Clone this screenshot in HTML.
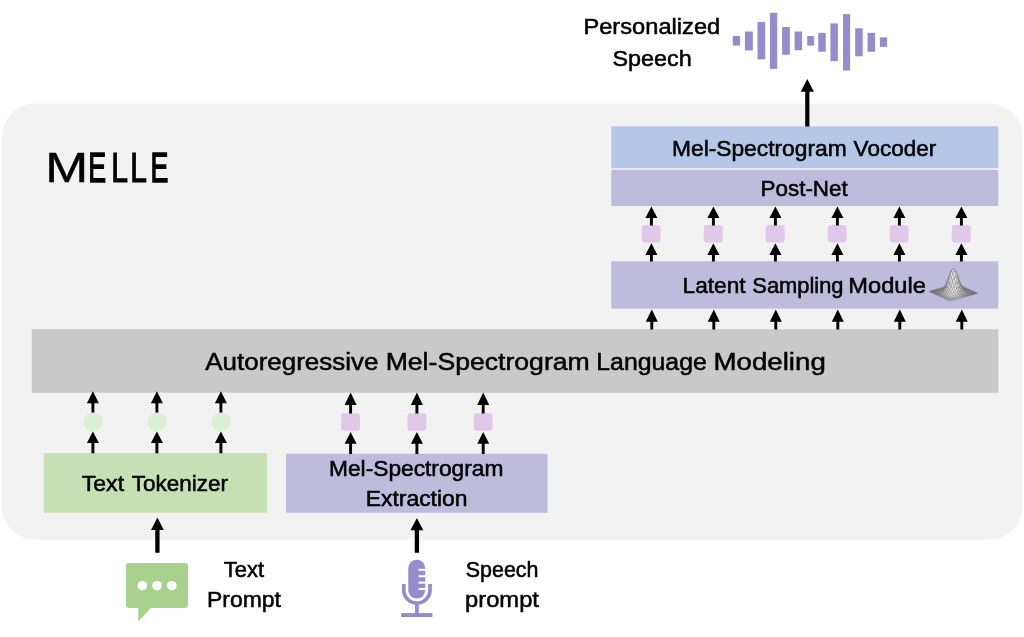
<!DOCTYPE html>
<html lang="en">
<head>
<meta charset="utf-8">
<title>MELLE</title>
<style>
html,body{margin:0;padding:0;background:#fff;}
body{width:1024px;height:637px;overflow:hidden;position:relative;font-family:"Liberation Sans",sans-serif;}
svg{position:absolute;left:0;top:0;display:block;}
text{font-family:"Liberation Sans",sans-serif;fill:#000;stroke:#000;stroke-width:0.55px;vector-effect:non-scaling-stroke;}
</style>
</head>
<body>
<svg width="1024" height="637" viewBox="0 0 1024 637">
<rect x="2" y="103.5" width="1020.5" height="436" rx="33" ry="33" fill="#f2f2f2"/>
<rect x="611.25" y="126.25" width="387" height="41.9" fill="#b4c7e7"/>
<rect x="611.25" y="168.1" width="387" height="1.9" fill="#e9e9f3"/>
<rect x="611.25" y="170" width="387" height="36" fill="#bfbbdd"/>
<rect x="611.25" y="261.25" width="387" height="47.4" fill="#bfbbdd"/>
<rect x="31.75" y="329.25" width="966.6" height="63.5" fill="#c9c9c9"/>
<rect x="43.75" y="453" width="223.25" height="59.75" fill="#c5e0b4"/>
<rect x="286" y="453.75" width="261.5" height="59" fill="#bfbbdd"/>
<g fill="#e1c8eb">
<rect x="641.80" y="225" width="18.8" height="17.5" rx="3" ry="3"/>
<rect x="703.80" y="225" width="18.8" height="17.5" rx="3" ry="3"/>
<rect x="765.80" y="225" width="18.8" height="17.5" rx="3" ry="3"/>
<rect x="827.80" y="225" width="18.8" height="17.5" rx="3" ry="3"/>
<rect x="889.80" y="225" width="18.8" height="17.5" rx="3" ry="3"/>
<rect x="951.80" y="225" width="18.8" height="17.5" rx="3" ry="3"/>
<rect x="341.20" y="413.25" width="18.8" height="17.5" rx="3" ry="3"/>
<rect x="407.50" y="413.25" width="18.8" height="17.5" rx="3" ry="3"/>
<rect x="473.80" y="413.25" width="18.8" height="17.5" rx="3" ry="3"/>
</g>
<g fill="#d9f0d3">
<circle cx="92.90" cy="421.9" r="9.6"/>
<circle cx="156.90" cy="421.9" r="9.6"/>
<circle cx="220.90" cy="421.9" r="9.6"/>
</g>
<g fill="#000">
<path d="M651.40 206.60L657.40 218.00L652.85 218.00L652.85 225.50L649.95 225.50L649.95 218.00L645.40 218.00Z"/>
<path d="M651.40 243.20L657.40 255.00L652.85 255.00L652.85 261.50L649.95 261.50L649.95 255.00L645.40 255.00Z"/>
<path d="M651.80 309.60L657.80 321.75L653.25 321.75L653.25 329.50L650.35 329.50L650.35 321.75L645.80 321.75Z"/>
<path d="M713.40 206.60L719.40 218.00L714.85 218.00L714.85 225.50L711.95 225.50L711.95 218.00L707.40 218.00Z"/>
<path d="M713.40 243.20L719.40 255.00L714.85 255.00L714.85 261.50L711.95 261.50L711.95 255.00L707.40 255.00Z"/>
<path d="M713.80 309.60L719.80 321.75L715.25 321.75L715.25 329.50L712.35 329.50L712.35 321.75L707.80 321.75Z"/>
<path d="M775.40 206.60L781.40 218.00L776.85 218.00L776.85 225.50L773.95 225.50L773.95 218.00L769.40 218.00Z"/>
<path d="M775.40 243.20L781.40 255.00L776.85 255.00L776.85 261.50L773.95 261.50L773.95 255.00L769.40 255.00Z"/>
<path d="M775.80 309.60L781.80 321.75L777.25 321.75L777.25 329.50L774.35 329.50L774.35 321.75L769.80 321.75Z"/>
<path d="M837.40 206.60L843.40 218.00L838.85 218.00L838.85 225.50L835.95 225.50L835.95 218.00L831.40 218.00Z"/>
<path d="M837.40 243.20L843.40 255.00L838.85 255.00L838.85 261.50L835.95 261.50L835.95 255.00L831.40 255.00Z"/>
<path d="M837.80 309.60L843.80 321.75L839.25 321.75L839.25 329.50L836.35 329.50L836.35 321.75L831.80 321.75Z"/>
<path d="M899.40 206.60L905.40 218.00L900.85 218.00L900.85 225.50L897.95 225.50L897.95 218.00L893.40 218.00Z"/>
<path d="M899.40 243.20L905.40 255.00L900.85 255.00L900.85 261.50L897.95 261.50L897.95 255.00L893.40 255.00Z"/>
<path d="M899.80 309.60L905.80 321.75L901.25 321.75L901.25 329.50L898.35 329.50L898.35 321.75L893.80 321.75Z"/>
<path d="M961.40 206.60L967.40 218.00L962.85 218.00L962.85 225.50L959.95 225.50L959.95 218.00L955.40 218.00Z"/>
<path d="M961.40 243.20L967.40 255.00L962.85 255.00L962.85 261.50L959.95 261.50L959.95 255.00L955.40 255.00Z"/>
<path d="M961.80 309.60L967.80 321.75L963.25 321.75L963.25 329.50L960.35 329.50L960.35 321.75L955.80 321.75Z"/>
<path d="M92.90 391.20L98.90 403.20L94.35 403.20L94.35 412.60L91.45 412.60L91.45 403.20L86.90 403.20Z"/>
<path d="M92.90 431.40L98.90 443.00L94.35 443.00L94.35 453.20L91.45 453.20L91.45 443.00L86.90 443.00Z"/>
<path d="M156.90 391.20L162.90 403.20L158.35 403.20L158.35 412.60L155.45 412.60L155.45 403.20L150.90 403.20Z"/>
<path d="M156.90 431.40L162.90 443.00L158.35 443.00L158.35 453.20L155.45 453.20L155.45 443.00L150.90 443.00Z"/>
<path d="M220.90 391.20L226.90 403.20L222.35 403.20L222.35 412.60L219.45 412.60L219.45 403.20L214.90 403.20Z"/>
<path d="M220.90 431.40L226.90 443.00L222.35 443.00L222.35 453.20L219.45 453.20L219.45 443.00L214.90 443.00Z"/>
<path d="M350.60 392.40L356.60 405.00L352.05 405.00L352.05 413.50L349.15 413.50L349.15 405.00L344.60 405.00Z"/>
<path d="M350.60 431.90L356.60 443.75L352.05 443.75L352.05 454.00L349.15 454.00L349.15 443.75L344.60 443.75Z"/>
<path d="M416.90 392.40L422.90 405.00L418.35 405.00L418.35 413.50L415.45 413.50L415.45 405.00L410.90 405.00Z"/>
<path d="M416.90 431.90L422.90 443.75L418.35 443.75L418.35 454.00L415.45 454.00L415.45 443.75L410.90 443.75Z"/>
<path d="M483.20 392.40L489.20 405.00L484.65 405.00L484.65 413.50L481.75 413.50L481.75 405.00L477.20 405.00Z"/>
<path d="M483.20 431.90L489.20 443.75L484.65 443.75L484.65 454.00L481.75 454.00L481.75 443.75L477.20 443.75Z"/>
<path d="M807.30 78.90L813.90 91.70L809.40 91.70L809.40 126.50L805.20 126.50L805.20 91.70L800.70 91.70Z"/>
<path d="M157.40 517.60L163.80 529.90L159.55 529.90L159.55 552.75L155.25 552.75L155.25 529.90L151.00 529.90Z"/>
<path d="M416.90 517.90L423.30 530.20L419.05 530.20L419.05 552.75L414.75 552.75L414.75 530.20L410.50 530.20Z"/>
</g>
<g fill="#958dcb">
<rect x="732.75" y="36.00" width="7.31" height="9.60"/>
<rect x="744.90" y="31.50" width="7.90" height="18.90"/>
<rect x="757.50" y="21.90" width="7.70" height="37.35"/>
<rect x="769.90" y="12.75" width="7.30" height="56.05"/>
<rect x="782.10" y="27.00" width="7.80" height="27.75"/>
<rect x="794.60" y="31.50" width="7.50" height="18.75"/>
<rect x="807.20" y="36.00" width="6.90" height="9.60"/>
<rect x="818.25" y="32.80" width="7.50" height="18.95"/>
<rect x="830.40" y="23.40" width="7.50" height="37.70"/>
<rect x="843.00" y="14.10" width="7.10" height="56.40"/>
<rect x="855.20" y="28.30" width="7.50" height="27.95"/>
<rect x="867.60" y="32.80" width="7.50" height="18.95"/>
<rect x="879.90" y="37.30" width="7.20" height="9.60"/>
</g>
<g>
<path fill="#a9d18e" d="M128.9 563.1H185.1Q188.1 563.1 188.1 566.1V605.1Q188.1 608.1 185.1 608.1H150.8L138.3 621.4V608.1H128.9Q125.9 608.1 125.9 605.1V566.1Q125.9 563.1 128.9 563.1Z"/>
<circle cx="142.4" cy="585.7" r="4.8" fill="#fff"/>
<circle cx="157.0" cy="585.7" r="4.8" fill="#fff"/>
<circle cx="171.8" cy="585.7" r="4.8" fill="#fff"/>
</g>
<g>
<rect x="408.3" y="559.7" width="16.9" height="38.9" rx="8.45" ry="8.45" fill="#958dcb"/>
<g fill="#fff">
<rect x="418.5" y="568.8" width="7" height="2"/>
<rect x="418.5" y="575.2" width="7" height="2"/>
<rect x="418.5" y="581.6" width="7" height="2"/>
<rect x="418.5" y="588" width="7" height="2"/>
</g>
<path fill="none" stroke="#958dcb" stroke-width="3.8" d="M403.8 584V590A13.1 13.1 0 0 0 430 590V584"/>
<rect x="415" y="603" width="3.8" height="11" fill="#958dcb"/>
<rect x="401.2" y="613.1" width="31.2" height="3.9" fill="#958dcb"/>
</g>
<g stroke="#555" stroke-width="0.25" stroke-linejoin="round">
<path fill="#e3e3e3" d="M955.0 283.9L956.1 284.5L957.7 284.0L956.5 283.5Z"/>
<path fill="#e9e9e9" d="M953.4 284.4L954.6 284.9L956.1 284.5L955.0 283.9Z"/>
<path fill="#dedede" d="M956.1 284.5L957.3 285.0L958.9 284.6L957.7 284.0Z"/>
<path fill="#ececec" d="M951.9 284.8L953.1 285.4L954.6 284.9L953.4 284.4Z"/>
<path fill="#e4e4e4" d="M954.6 284.9L955.8 285.5L957.3 285.0L956.1 284.5Z"/>
<path fill="#d8d8d8" d="M957.3 285.0L958.5 285.6L960.0 285.1L958.9 284.6Z"/>
<path fill="#e8e8e8" d="M950.4 285.2L951.6 285.8L953.1 285.4L951.9 284.8Z"/>
<path fill="#eaeaea" d="M953.1 285.4L954.3 285.9L955.8 285.5L954.6 284.9Z"/>
<path fill="#dfdfdf" d="M955.8 285.5L957.0 286.0L958.5 285.6L957.3 285.0Z"/>
<path fill="#d3d3d3" d="M958.5 285.6L959.7 286.1L961.2 285.7L960.0 285.1Z"/>
<path fill="#e2e2e2" d="M948.9 285.7L950.0 286.2L951.6 285.8L950.4 285.2Z"/>
<path fill="#ececec" d="M951.6 285.8L952.7 286.3L954.3 285.9L953.1 285.4Z"/>
<path fill="#e5e5e5" d="M954.3 285.9L955.4 286.4L957.0 286.0L955.8 285.5Z"/>
<path fill="#dadada" d="M957.0 286.0L958.2 286.5L959.7 286.1L958.5 285.6Z"/>
<path fill="#dbdbdb" d="M947.3 286.1L948.5 286.6L950.0 286.2L948.9 285.7Z"/>
<path fill="#cdcdcd" d="M959.7 286.1L960.9 286.6L962.4 286.2L961.2 285.7Z"/>
<path fill="#e6e6e6" d="M950.0 286.2L951.2 286.6L952.7 286.3L951.6 285.8Z"/>
<path fill="#ebebeb" d="M952.7 286.3L953.9 286.7L955.4 286.4L954.3 285.9Z"/>
<path fill="#e1e1e1" d="M955.4 286.4L956.6 286.8L958.2 286.5L957.0 286.0Z"/>
<path fill="#d4d4d4" d="M945.8 286.5L947.0 287.0L948.5 286.6L947.3 286.1Z"/>
<path fill="#d5d5d5" d="M958.2 286.5L959.3 287.0L960.9 286.6L959.7 286.1Z"/>
<path fill="#e0e0e0" d="M948.5 286.6L949.7 287.0L951.2 286.6L950.0 286.2Z"/>
<path fill="#c7c7c7" d="M960.9 286.6L962.0 287.1L963.6 286.8L962.4 286.2Z"/>
<path fill="#eaeaea" d="M951.2 286.6L952.4 286.9L953.9 286.7L952.7 286.3Z"/>
<path fill="#e7e7e7" d="M953.9 286.7L955.1 286.9L956.6 286.8L955.4 286.4Z"/>
<path fill="#cdcdcd" d="M944.3 287.0L945.5 287.4L947.0 287.0L945.8 286.5Z"/>
<path fill="#dcdcdc" d="M956.6 286.8L957.8 287.1L959.3 287.0L958.2 286.5Z"/>
<path fill="#d9d9d9" d="M947.0 287.0L948.2 287.3L949.7 287.0L948.5 286.6Z"/>
<path fill="#cfcfcf" d="M959.3 287.0L960.5 287.4L962.0 287.1L960.9 286.6Z"/>
<path fill="#e5e5e5" d="M949.7 287.0L950.9 287.0L952.4 286.9L951.2 286.6Z"/>
<path fill="#c1c1c1" d="M962.0 287.1L963.2 287.7L964.7 287.3L963.6 286.8Z"/>
<path fill="#ececec" d="M952.4 286.9L953.6 286.9L955.1 286.9L953.9 286.7Z"/>
<path fill="#c5c5c5" d="M942.8 287.4L943.9 287.8L945.5 287.4L944.3 287.0Z"/>
<path fill="#e2e2e2" d="M955.1 286.9L956.3 287.0L957.8 287.1L956.6 286.8Z"/>
<path fill="#d2d2d2" d="M945.5 287.4L946.6 287.6L948.2 287.3L947.0 287.0Z"/>
<path fill="#d6d6d6" d="M957.8 287.1L959.0 287.4L960.5 287.4L959.3 287.0Z"/>
<path fill="#dfdfdf" d="M948.2 287.3L949.3 287.1L950.9 287.0L949.7 287.0Z"/>
<path fill="#c9c9c9" d="M960.5 287.4L961.7 287.8L963.2 287.7L962.0 287.1Z"/>
<path fill="#e9e9e9" d="M950.9 287.0L952.0 286.6L953.6 286.9L952.4 286.9Z"/>
<path fill="#bbbbbb" d="M963.2 287.7L964.4 288.2L965.9 287.9L964.7 287.3Z"/>
<path fill="#bdbdbd" d="M941.2 287.8L942.4 288.3L943.9 287.8L942.8 287.4Z"/>
<path fill="#e8e8e8" d="M953.6 286.9L954.8 286.4L956.3 287.0L955.1 286.9Z"/>
<path fill="#cbcbcb" d="M943.9 287.8L945.1 288.0L946.6 287.6L945.5 287.4Z"/>
<path fill="#dddddd" d="M956.3 287.0L957.5 286.8L959.0 287.4L957.8 287.1Z"/>
<path fill="#d8d8d8" d="M946.6 287.6L947.8 287.3L949.3 287.1L948.2 287.3Z"/>
<path fill="#d1d1d1" d="M959.0 287.4L960.2 287.6L961.7 287.8L960.5 287.4Z"/>
<path fill="#e4e4e4" d="M949.3 287.1L950.5 286.2L952.0 286.6L950.9 287.0Z"/>
<path fill="#c3c3c3" d="M961.7 287.8L962.9 288.3L964.4 288.2L963.2 287.7Z"/>
<path fill="#b5b5b5" d="M939.7 288.3L940.9 288.7L942.4 288.3L941.2 287.8Z"/>
<path fill="#ededed" d="M952.0 286.6L953.2 285.4L954.8 286.4L953.6 286.9Z"/>
<path fill="#b5b5b5" d="M964.4 288.2L965.6 288.7L967.1 288.4L965.9 287.9Z"/>
<path fill="#c3c3c3" d="M942.4 288.3L943.6 288.5L945.1 288.0L943.9 287.8Z"/>
<path fill="#e4e4e4" d="M954.8 286.4L955.9 285.5L957.5 286.8L956.3 287.0Z"/>
<path fill="#d1d1d1" d="M945.1 288.0L946.3 287.6L947.8 287.3L946.6 287.6Z"/>
<path fill="#d8d8d8" d="M957.5 286.8L958.6 286.5L960.2 287.6L959.0 287.4Z"/>
<path fill="#dddddd" d="M947.8 287.3L949.0 286.0L950.5 286.2L949.3 287.1Z"/>
<path fill="#cbcbcb" d="M960.2 287.6L961.3 287.8L962.9 288.3L961.7 287.8Z"/>
<path fill="#acacac" d="M938.2 288.7L939.3 289.2L940.9 288.7L939.7 288.3Z"/>
<path fill="#e8e8e8" d="M950.5 286.2L951.7 284.2L953.2 285.4L952.0 286.6Z"/>
<path fill="#bdbdbd" d="M962.9 288.3L964.0 288.8L965.6 288.7L964.4 288.2Z"/>
<path fill="#bbbbbb" d="M940.9 288.7L942.1 289.0L943.6 288.5L942.4 288.3Z"/>
<path fill="#e9e9e9" d="M953.2 285.4L954.4 283.4L955.9 285.5L954.8 286.4Z"/>
<path fill="#aeaeae" d="M965.6 288.7L966.8 289.3L968.3 289.0L967.1 288.4Z"/>
<path fill="#c9c9c9" d="M943.6 288.5L944.8 288.1L946.3 287.6L945.1 288.0Z"/>
<path fill="#dfdfdf" d="M955.9 285.5L957.1 284.4L958.6 286.5L957.5 286.8Z"/>
<path fill="#d6d6d6" d="M946.3 287.6L947.5 286.1L949.0 286.0L947.8 287.3Z"/>
<path fill="#d2d2d2" d="M958.6 286.5L959.8 286.4L961.3 287.8L960.2 287.6Z"/>
<path fill="#a4a4a4" d="M936.6 289.2L937.8 289.7L939.3 289.2L938.2 288.7Z"/>
<path fill="#e2e2e2" d="M949.0 286.0L950.2 283.3L951.7 284.2L950.5 286.2Z"/>
<path fill="#c5c5c5" d="M961.3 287.8L962.5 288.3L964.0 288.8L962.9 288.3Z"/>
<path fill="#b3b3b3" d="M939.3 289.2L940.5 289.6L942.1 289.0L940.9 288.7Z"/>
<path fill="#ececec" d="M951.7 284.2L952.9 281.1L954.4 283.4L953.2 285.4Z"/>
<path fill="#b7b7b7" d="M964.0 288.8L965.2 289.4L966.8 289.3L965.6 288.7Z"/>
<path fill="#c1c1c1" d="M942.1 289.0L943.2 288.9L944.8 288.1L943.6 288.5Z"/>
<path fill="#e5e5e5" d="M954.4 283.4L955.6 281.2L957.1 284.4L955.9 285.5Z"/>
<path fill="#a8a8a8" d="M966.8 289.3L967.9 289.9L969.5 289.5L968.3 289.0Z"/>
<path fill="#cfcfcf" d="M944.8 288.1L945.9 286.8L947.5 286.1L946.3 287.6Z"/>
<path fill="#d9d9d9" d="M957.1 284.4L958.3 283.6L959.8 286.4L958.6 286.5Z"/>
<path fill="#9b9b9b" d="M935.1 289.6L936.3 290.2L937.8 289.7L936.6 289.2Z"/>
<path fill="#dcdcdc" d="M947.5 286.1L948.6 283.2L950.2 283.3L949.0 286.0Z"/>
<path fill="#cdcdcd" d="M959.8 286.4L961.0 286.7L962.5 288.3L961.3 287.8Z"/>
<path fill="#aaaaaa" d="M937.8 289.7L939.0 290.1L940.5 289.6L939.3 289.2Z"/>
<path fill="#e7e7e7" d="M950.2 283.3L951.3 279.2L952.9 281.1L951.7 284.2Z"/>
<path fill="#bfbfbf" d="M962.5 288.3L963.7 288.9L965.2 289.4L964.0 288.8Z"/>
<path fill="#b9b9b9" d="M940.5 289.6L941.7 289.7L943.2 288.9L942.1 289.0Z"/>
<path fill="#eaeaea" d="M952.9 281.1L954.0 277.5L955.6 281.2L954.4 283.4Z"/>
<path fill="#b0b0b0" d="M965.2 289.4L966.4 290.0L967.9 289.9L966.8 289.3Z"/>
<path fill="#c7c7c7" d="M943.2 288.9L944.4 287.9L945.9 286.8L944.8 288.1Z"/>
<path fill="#e0e0e0" d="M955.6 281.2L956.8 279.5L958.3 283.6L957.1 284.4Z"/>
<path fill="#a1a1a1" d="M967.9 289.9L969.1 290.4L970.6 290.1L969.5 289.5Z"/>
<path fill="#929292" d="M933.6 290.1L934.8 290.6L936.3 290.2L935.1 289.6Z"/>
<path fill="#d5d5d5" d="M945.9 286.8L947.1 284.2L948.6 283.2L947.5 286.1Z"/>
<path fill="#d4d4d4" d="M958.3 283.6L959.5 283.6L961.0 286.7L959.8 286.4Z"/>
<path fill="#a2a2a2" d="M936.3 290.2L937.5 290.7L939.0 290.1L937.8 289.7Z"/>
<path fill="#e1e1e1" d="M948.6 283.2L949.8 278.8L951.3 279.2L950.2 283.3Z"/>
<path fill="#c7c7c7" d="M961.0 286.7L962.2 287.5L963.7 288.9L962.5 288.3Z"/>
<path fill="#b1b1b1" d="M939.0 290.1L940.2 290.4L941.7 289.7L940.5 289.6Z"/>
<path fill="#ebebeb" d="M951.3 279.2L952.5 274.6L954.0 277.5L952.9 281.1Z"/>
<path fill="#b8b8b8" d="M963.7 288.9L964.9 289.8L966.4 290.0L965.2 289.4Z"/>
<path fill="#bfbfbf" d="M941.7 289.7L942.9 289.2L944.4 287.9L943.2 288.9Z"/>
<path fill="#e6e6e6" d="M954.0 277.5L955.2 274.7L956.8 279.5L955.6 281.2Z"/>
<path fill="#aaaaaa" d="M966.4 290.0L967.6 290.7L969.1 290.4L967.9 289.9Z"/>
<path fill="#898989" d="M932.1 290.5L933.2 291.1L934.8 290.6L933.6 290.1Z"/>
<path fill="#cdcdcd" d="M944.4 287.9L945.6 285.9L947.1 284.2L945.9 286.8Z"/>
<path fill="#dbdbdb" d="M956.8 279.5L957.9 279.1L959.5 283.6L958.3 283.6Z"/>
<path fill="#9a9a9a" d="M969.1 290.4L970.3 291.0L971.8 290.6L970.6 290.1Z"/>
<path fill="#999999" d="M934.8 290.6L935.9 291.1L937.5 290.7L936.3 290.2Z"/>
<path fill="#dadada" d="M947.1 284.2L948.3 280.1L949.8 278.8L948.6 283.2Z"/>
<path fill="#cecece" d="M959.5 283.6L960.6 284.7L962.2 287.5L961.0 286.7Z"/>
<path fill="#a8a8a8" d="M937.5 290.7L938.6 291.1L940.2 290.4L939.0 290.1Z"/>
<path fill="#e5e5e5" d="M949.8 278.8L951.0 273.8L952.5 274.6L951.3 279.2Z"/>
<path fill="#c1c1c1" d="M962.2 287.5L963.3 288.7L964.9 289.8L963.7 288.9Z"/>
<path fill="#b7b7b7" d="M940.2 290.4L941.4 290.4L942.9 289.2L941.7 289.7Z"/>
<path fill="#ececec" d="M952.5 274.6L953.7 271.0L955.2 274.7L954.0 277.5Z"/>
<path fill="#b2b2b2" d="M964.9 289.8L966.0 290.7L967.6 290.7L966.4 290.0Z"/>
<path fill="#808080" d="M930.5 291.0L931.7 291.5L933.2 291.1L932.1 290.5Z"/>
<path fill="#c5c5c5" d="M942.9 289.2L944.1 288.0L945.6 285.9L944.4 287.9Z"/>
<path fill="#e2e2e2" d="M955.2 274.7L956.4 274.0L957.9 279.1L956.8 279.5Z"/>
<path fill="#a3a3a3" d="M967.6 290.7L968.8 291.4L970.3 291.0L969.1 290.4Z"/>
<path fill="#909090" d="M933.2 291.1L934.4 291.6L935.9 291.1L934.8 290.6Z"/>
<path fill="#d3d3d3" d="M945.6 285.9L946.8 282.8L948.3 280.1L947.1 284.2Z"/>
<path fill="#d6d6d6" d="M957.9 279.1L959.1 280.6L960.6 284.7L959.5 283.6Z"/>
<path fill="#939393" d="M970.3 291.0L971.5 291.6L973.0 291.2L971.8 290.6Z"/>
<path fill="#a0a0a0" d="M935.9 291.1L937.1 291.6L938.6 291.1L937.5 290.7Z"/>
<path fill="#dfdfdf" d="M948.3 280.1L949.5 275.5L951.0 273.8L949.8 278.8Z"/>
<path fill="#c8c8c8" d="M960.6 284.7L961.8 286.6L963.3 288.7L962.2 287.5Z"/>
<path fill="#afafaf" d="M938.6 291.1L939.8 291.3L941.4 290.4L940.2 290.4Z"/>
<path fill="#eaeaea" d="M951.0 273.8L952.2 269.8L953.7 271.0L952.5 274.6Z"/>
<path fill="#bababa" d="M963.3 288.7L964.5 290.1L966.0 290.7L964.9 289.8Z"/>
<path fill="#767676" d="M929.0 291.4L930.2 291.9L931.7 291.5L930.5 291.0Z"/>
<path fill="#bdbdbd" d="M941.4 290.4L942.5 289.9L944.1 288.0L942.9 289.2Z"/>
<path fill="#e8e8e8" d="M953.7 271.0L954.9 269.9L956.4 274.0L955.2 274.7Z"/>
<path fill="#ababab" d="M966.0 290.7L967.2 291.5L968.8 291.4L967.6 290.7Z"/>
<path fill="#878787" d="M931.7 291.5L932.9 292.1L934.4 291.6L933.2 291.1Z"/>
<path fill="#cbcbcb" d="M944.1 288.0L945.2 286.1L946.8 282.8L945.6 285.9Z"/>
<path fill="#dddddd" d="M956.4 274.0L957.6 275.8L959.1 280.6L957.9 279.1Z"/>
<path fill="#9c9c9c" d="M968.8 291.4L969.9 292.0L971.5 291.6L970.3 291.0Z"/>
<path fill="#979797" d="M934.4 291.6L935.6 292.1L937.1 291.6L935.9 291.1Z"/>
<path fill="#d8d8d8" d="M946.8 282.8L947.9 279.3L949.5 275.5L948.3 280.1Z"/>
<path fill="#d0d0d0" d="M959.1 280.6L960.3 283.4L961.8 286.6L960.6 284.7Z"/>
<path fill="#8c8c8c" d="M971.5 291.6L972.6 292.2L974.2 291.7L973.0 291.2Z"/>
<path fill="#a6a6a6" d="M937.1 291.6L938.3 292.1L939.8 291.3L938.6 291.1Z"/>
<path fill="#e4e4e4" d="M949.5 275.5L950.6 271.9L952.2 269.8L951.0 273.8Z"/>
<path fill="#c2c2c2" d="M961.8 286.6L963.0 288.8L964.5 290.1L963.3 288.7Z"/>
<path fill="#b5b5b5" d="M939.8 291.3L941.0 291.4L942.5 289.9L941.4 290.4Z"/>
<path fill="#ececec" d="M952.2 269.8L953.4 268.6L954.9 269.9L953.7 271.0Z"/>
<path fill="#b4b4b4" d="M964.5 290.1L965.7 291.4L967.2 291.5L966.0 290.7Z"/>
<path fill="#7d7d7d" d="M930.2 291.9L931.4 292.5L932.9 292.1L931.7 291.5Z"/>
<path fill="#c4c4c4" d="M942.5 289.9L943.7 289.0L945.2 286.1L944.1 288.0Z"/>
<path fill="#e3e3e3" d="M954.9 269.9L956.1 272.1L957.6 275.8L956.4 274.0Z"/>
<path fill="#a5a5a5" d="M967.2 291.5L968.4 292.3L969.9 292.0L968.8 291.4Z"/>
<path fill="#8e8e8e" d="M932.9 292.1L934.1 292.6L935.6 292.1L934.4 291.6Z"/>
<path fill="#d1d1d1" d="M945.2 286.1L946.4 283.8L947.9 279.3L946.8 282.8Z"/>
<path fill="#d7d7d7" d="M957.6 275.8L958.8 279.7L960.3 283.4L959.1 280.6Z"/>
<path fill="#959595" d="M969.9 292.0L971.1 292.6L972.6 292.2L971.5 291.6Z"/>
<path fill="#9e9e9e" d="M935.6 292.1L936.8 292.6L938.3 292.1L937.1 291.6Z"/>
<path fill="#dedede" d="M947.9 279.3L949.1 276.5L950.6 271.9L949.5 275.5Z"/>
<path fill="#cacaca" d="M960.3 283.4L961.5 286.7L963.0 288.8L961.8 286.6Z"/>
<path fill="#858585" d="M972.6 292.2L973.8 292.7L975.3 292.3L974.2 291.7Z"/>
<path fill="#adadad" d="M938.3 292.1L939.5 292.4L941.0 291.4L939.8 291.3Z"/>
<path fill="#e9e9e9" d="M950.6 271.9L951.8 270.8L953.4 268.6L952.2 269.8Z"/>
<path fill="#bcbcbc" d="M963.0 288.8L964.2 290.8L965.7 291.4L964.5 290.1Z"/>
<path fill="#bcbcbc" d="M941.0 291.4L942.2 291.2L943.7 289.0L942.5 289.9Z"/>
<path fill="#e9e9e9" d="M953.4 268.6L954.5 270.9L956.1 272.1L954.9 269.9Z"/>
<path fill="#adadad" d="M965.7 291.4L966.9 292.4L968.4 292.3L967.2 291.5Z"/>
<path fill="#858585" d="M931.4 292.5L932.5 293.0L934.1 292.6L932.9 292.1Z"/>
<path fill="#cacaca" d="M943.7 289.0L944.9 287.9L946.4 283.8L945.2 286.1Z"/>
<path fill="#dedede" d="M956.1 272.1L957.2 276.8L958.8 279.7L957.6 275.8Z"/>
<path fill="#9e9e9e" d="M968.4 292.3L969.6 293.0L971.1 292.6L969.9 292.0Z"/>
<path fill="#959595" d="M934.1 292.6L935.2 293.1L936.8 292.6L935.6 292.1Z"/>
<path fill="#d7d7d7" d="M946.4 283.8L947.6 282.1L949.1 276.5L947.9 279.3Z"/>
<path fill="#d2d2d2" d="M958.8 279.7L959.9 284.4L961.5 286.7L960.3 283.4Z"/>
<path fill="#8e8e8e" d="M971.1 292.6L972.3 293.2L973.8 292.7L972.6 292.2Z"/>
<path fill="#a4a4a4" d="M936.8 292.6L937.9 293.1L939.5 292.4L938.3 292.1Z"/>
<path fill="#e3e3e3" d="M949.1 276.5L950.3 275.8L951.8 270.8L950.6 271.9Z"/>
<path fill="#c4c4c4" d="M961.5 286.7L962.6 289.8L964.2 290.8L963.0 288.8Z"/>
<path fill="#7e7e7e" d="M973.8 292.7L975.0 293.3L976.5 292.8L975.3 292.3Z"/>
<path fill="#b3b3b3" d="M939.5 292.4L940.7 292.6L942.2 291.2L941.0 291.4Z"/>
<path fill="#ececec" d="M951.8 270.8L953.0 273.0L954.5 270.9L953.4 268.6Z"/>
<path fill="#b6b6b6" d="M964.2 290.8L965.4 292.4L966.9 292.4L965.7 291.4Z"/>
<path fill="#c2c2c2" d="M942.2 291.2L943.4 290.9L944.9 287.9L943.7 289.0Z"/>
<path fill="#e4e4e4" d="M954.5 270.9L955.7 276.0L957.2 276.8L956.1 272.1Z"/>
<path fill="#a7a7a7" d="M966.9 292.4L968.1 293.3L969.6 293.0L968.4 292.3Z"/>
<path fill="#8c8c8c" d="M932.5 293.0L933.7 293.6L935.2 293.1L934.1 292.6Z"/>
<path fill="#cfcfcf" d="M944.9 287.9L946.1 287.1L947.6 282.1L946.4 283.8Z"/>
<path fill="#d9d9d9" d="M957.2 276.8L958.4 282.5L959.9 284.4L958.8 279.7Z"/>
<path fill="#979797" d="M969.6 293.0L970.8 293.6L972.3 293.2L971.1 292.6Z"/>
<path fill="#9c9c9c" d="M935.2 293.1L936.4 293.7L937.9 293.1L936.8 292.6Z"/>
<path fill="#dcdcdc" d="M947.6 282.1L948.8 281.8L950.3 275.8L949.1 276.5Z"/>
<path fill="#cccccc" d="M959.9 284.4L961.1 288.6L962.6 289.8L961.5 286.7Z"/>
<path fill="#878787" d="M972.3 293.2L973.5 293.7L975.0 293.3L973.8 292.7Z"/>
<path fill="#ababab" d="M937.9 293.1L939.1 293.5L940.7 292.6L939.5 292.4Z"/>
<path fill="#e7e7e7" d="M950.3 275.8L951.5 277.6L953.0 273.0L951.8 270.8Z"/>
<path fill="#bebebe" d="M962.6 289.8L963.8 292.1L965.4 292.4L964.2 290.8Z"/>
<path fill="#777777" d="M975.0 293.3L976.2 293.8L977.7 293.4L976.5 292.8Z"/>
<path fill="#bababa" d="M940.7 292.6L941.8 292.8L943.4 290.9L942.2 291.2Z"/>
<path fill="#eaeaea" d="M953.0 273.0L954.2 277.7L955.7 276.0L954.5 270.9Z"/>
<path fill="#afafaf" d="M965.4 292.4L966.5 293.5L968.1 293.3L966.9 292.4Z"/>
<path fill="#c8c8c8" d="M943.4 290.9L944.5 290.8L946.1 287.1L944.9 287.9Z"/>
<path fill="#e0e0e0" d="M955.7 276.0L956.9 282.1L958.4 282.5L957.2 276.8Z"/>
<path fill="#a0a0a0" d="M968.1 293.3L969.2 294.0L970.8 293.6L969.6 293.0Z"/>
<path fill="#939393" d="M933.7 293.6L934.9 294.1L936.4 293.7L935.2 293.1Z"/>
<path fill="#d5d5d5" d="M946.1 287.1L947.2 287.2L948.8 281.8L947.6 282.1Z"/>
<path fill="#d3d3d3" d="M958.4 282.5L959.6 287.7L961.1 288.6L959.9 284.4Z"/>
<path fill="#909090" d="M970.8 293.6L971.9 294.2L973.5 293.7L972.3 293.2Z"/>
<path fill="#a2a2a2" d="M936.4 293.7L937.6 294.2L939.1 293.5L937.9 293.1Z"/>
<path fill="#e1e1e1" d="M948.8 281.8L949.9 283.2L951.5 277.6L950.3 275.8Z"/>
<path fill="#c6c6c6" d="M961.1 288.6L962.3 291.7L963.8 292.1L962.6 289.8Z"/>
<path fill="#808080" d="M973.5 293.7L974.6 294.3L976.2 293.8L975.0 293.3Z"/>
<path fill="#b1b1b1" d="M939.1 293.5L940.3 294.0L941.8 292.8L940.7 292.6Z"/>
<path fill="#ebebeb" d="M951.5 277.6L952.7 281.5L954.2 277.7L953.0 273.0Z"/>
<path fill="#b8b8b8" d="M963.8 292.1L965.0 293.6L966.5 293.5L965.4 292.4Z"/>
<path fill="#c0c0c0" d="M941.8 292.8L943.0 293.1L944.5 290.8L943.4 290.9Z"/>
<path fill="#e6e6e6" d="M954.2 277.7L955.4 283.4L956.9 282.1L955.7 276.0Z"/>
<path fill="#a9a9a9" d="M966.5 293.5L967.7 294.3L969.2 294.0L968.1 293.3Z"/>
<path fill="#cecece" d="M944.5 290.8L945.7 291.1L947.2 287.2L946.1 287.1Z"/>
<path fill="#dadada" d="M956.9 282.1L958.1 287.6L959.6 287.7L958.4 282.5Z"/>
<path fill="#999999" d="M969.2 294.0L970.4 294.6L971.9 294.2L970.8 293.6Z"/>
<path fill="#999999" d="M934.9 294.1L936.1 294.7L937.6 294.2L936.4 293.7Z"/>
<path fill="#dbdbdb" d="M947.2 287.2L948.4 288.2L949.9 283.2L948.8 281.8Z"/>
<path fill="#cecece" d="M959.6 287.7L960.8 291.5L962.3 291.7L961.1 288.6Z"/>
<path fill="#898989" d="M971.9 294.2L973.1 294.7L974.6 294.3L973.5 293.7Z"/>
<path fill="#a9a9a9" d="M937.6 294.2L938.8 294.7L940.3 294.0L939.1 293.5Z"/>
<path fill="#e6e6e6" d="M949.9 283.2L951.1 286.0L952.7 281.5L951.5 277.6Z"/>
<path fill="#c0c0c0" d="M962.3 291.7L963.5 293.7L965.0 293.6L963.8 292.1Z"/>
<path fill="#b8b8b8" d="M940.3 294.0L941.5 294.4L943.0 293.1L941.8 292.8Z"/>
<path fill="#ebebeb" d="M952.7 281.5L953.8 286.1L955.4 283.4L954.2 277.7Z"/>
<path fill="#b1b1b1" d="M965.0 293.6L966.2 294.7L967.7 294.3L966.5 293.5Z"/>
<path fill="#c6c6c6" d="M943.0 293.1L944.2 293.5L945.7 291.1L944.5 290.8Z"/>
<path fill="#e1e1e1" d="M955.4 283.4L956.5 288.6L958.1 287.6L956.9 282.1Z"/>
<path fill="#a2a2a2" d="M967.7 294.3L968.9 295.0L970.4 294.6L969.2 294.0Z"/>
<path fill="#d3d3d3" d="M945.7 291.1L946.9 291.9L948.4 288.2L947.2 287.2Z"/>
<path fill="#d5d5d5" d="M958.1 287.6L959.2 291.6L960.8 291.5L959.6 287.7Z"/>
<path fill="#929292" d="M970.4 294.6L971.6 295.1L973.1 294.7L971.9 294.2Z"/>
<path fill="#a0a0a0" d="M936.1 294.7L937.2 295.2L938.8 294.7L937.6 294.2Z"/>
<path fill="#e0e0e0" d="M948.4 288.2L949.6 290.1L951.1 286.0L949.9 283.2Z"/>
<path fill="#c8c8c8" d="M960.8 291.5L961.9 293.9L963.5 293.7L962.3 291.7Z"/>
<path fill="#b0b0b0" d="M938.8 294.7L940.0 295.2L941.5 294.4L940.3 294.0Z"/>
<path fill="#eaeaea" d="M951.1 286.0L952.3 289.4L953.8 286.1L952.7 281.5Z"/>
<path fill="#bababa" d="M963.5 293.7L964.6 295.0L966.2 294.7L965.0 293.6Z"/>
<path fill="#bebebe" d="M941.5 294.4L942.7 294.9L944.2 293.5L943.0 293.1Z"/>
<path fill="#e7e7e7" d="M953.8 286.1L955.0 290.3L956.5 288.6L955.4 283.4Z"/>
<path fill="#ababab" d="M966.2 294.7L967.4 295.4L968.9 295.0L967.7 294.3Z"/>
<path fill="#cccccc" d="M944.2 293.5L945.4 294.2L946.9 291.9L945.7 291.1Z"/>
<path fill="#dcdcdc" d="M956.5 288.6L957.7 292.3L959.2 291.6L958.1 287.6Z"/>
<path fill="#9b9b9b" d="M968.9 295.0L970.1 295.6L971.6 295.1L970.4 294.6Z"/>
<path fill="#d9d9d9" d="M946.9 291.9L948.1 293.1L949.6 290.1L948.4 288.2Z"/>
<path fill="#cfcfcf" d="M959.2 291.6L960.4 294.2L961.9 293.9L960.8 291.5Z"/>
<path fill="#a7a7a7" d="M937.2 295.2L938.4 295.8L940.0 295.2L938.8 294.7Z"/>
<path fill="#e5e5e5" d="M949.6 290.1L950.8 292.3L952.3 289.4L951.1 286.0Z"/>
<path fill="#c2c2c2" d="M961.9 293.9L963.1 295.3L964.6 295.0L963.5 293.7Z"/>
<path fill="#b6b6b6" d="M940.0 295.2L941.1 295.7L942.7 294.9L941.5 294.4Z"/>
<path fill="#ececec" d="M952.3 289.4L953.5 292.4L955.0 290.3L953.8 286.1Z"/>
<path fill="#b3b3b3" d="M964.6 295.0L965.8 295.8L967.4 295.4L966.2 294.7Z"/>
<path fill="#c4c4c4" d="M942.7 294.9L943.8 295.5L945.4 294.2L944.2 293.5Z"/>
<path fill="#e3e3e3" d="M955.0 290.3L956.2 293.4L957.7 292.3L956.5 288.6Z"/>
<path fill="#a4a4a4" d="M967.4 295.4L968.5 296.0L970.1 295.6L968.9 295.0Z"/>
<path fill="#d2d2d2" d="M945.4 294.2L946.5 295.0L948.1 293.1L946.9 291.9Z"/>
<path fill="#d7d7d7" d="M957.7 292.3L958.9 294.7L960.4 294.2L959.2 291.6Z"/>
<path fill="#dedede" d="M948.1 293.1L949.2 294.5L950.8 292.3L949.6 290.1Z"/>
<path fill="#cacaca" d="M960.4 294.2L961.6 295.7L963.1 295.3L961.9 293.9Z"/>
<path fill="#aeaeae" d="M938.4 295.8L939.6 296.3L941.1 295.7L940.0 295.2Z"/>
<path fill="#e9e9e9" d="M950.8 292.3L952.0 294.3L953.5 292.4L952.3 289.4Z"/>
<path fill="#bbbbbb" d="M963.1 295.3L964.3 296.2L965.8 295.8L964.6 295.0Z"/>
<path fill="#bcbcbc" d="M941.1 295.7L942.3 296.3L943.8 295.5L942.7 294.9Z"/>
<path fill="#e8e8e8" d="M953.5 292.4L954.7 294.7L956.2 293.4L955.0 290.3Z"/>
<path fill="#adadad" d="M965.8 295.8L967.0 296.4L968.5 296.0L967.4 295.4Z"/>
<path fill="#cacaca" d="M943.8 295.5L945.0 296.2L946.5 295.0L945.4 294.2Z"/>
<path fill="#dedede" d="M956.2 293.4L957.4 295.5L958.9 294.7L957.7 292.3Z"/>
<path fill="#d7d7d7" d="M946.5 295.0L947.7 295.9L949.2 294.5L948.1 293.1Z"/>
<path fill="#d1d1d1" d="M958.9 294.7L960.1 296.2L961.6 295.7L960.4 294.2Z"/>
<path fill="#e3e3e3" d="M949.2 294.5L950.4 295.8L952.0 294.3L950.8 292.3Z"/>
<path fill="#c4c4c4" d="M961.6 295.7L962.8 296.6L964.3 296.2L963.1 295.3Z"/>
<path fill="#b4b4b4" d="M939.6 296.3L940.8 296.9L942.3 296.3L941.1 295.7Z"/>
<path fill="#ececec" d="M952.0 294.3L953.1 295.9L954.7 294.7L953.5 292.4Z"/>
<path fill="#b5b5b5" d="M964.3 296.2L965.5 296.9L967.0 296.4L965.8 295.8Z"/>
<path fill="#c2c2c2" d="M942.3 296.3L943.5 296.9L945.0 296.2L943.8 295.5Z"/>
<path fill="#e4e4e4" d="M954.7 294.7L955.8 296.3L957.4 295.5L956.2 293.4Z"/>
<path fill="#d0d0d0" d="M945.0 296.2L946.2 296.8L947.7 295.9L946.5 295.0Z"/>
<path fill="#d8d8d8" d="M957.4 295.5L958.5 296.7L960.1 296.2L958.9 294.7Z"/>
<path fill="#dddddd" d="M947.7 295.9L948.9 296.8L950.4 295.8L949.2 294.5Z"/>
<path fill="#cbcbcb" d="M960.1 296.2L961.2 297.1L962.8 296.6L961.6 295.7Z"/>
<path fill="#e8e8e8" d="M950.4 295.8L951.6 296.8L953.1 295.9L952.0 294.3Z"/>
<path fill="#bdbdbd" d="M962.8 296.6L964.0 297.3L965.5 296.9L964.3 296.2Z"/>
<path fill="#bababa" d="M940.8 296.9L942.0 297.4L943.5 296.9L942.3 296.3Z"/>
<path fill="#eaeaea" d="M953.1 295.9L954.3 297.0L955.8 296.3L954.7 294.7Z"/>
<path fill="#c9c9c9" d="M943.5 296.9L944.7 297.5L946.2 296.8L945.0 296.2Z"/>
<path fill="#dfdfdf" d="M955.8 296.3L957.0 297.3L958.5 296.7L957.4 295.5Z"/>
<path fill="#d6d6d6" d="M946.2 296.8L947.4 297.5L948.9 296.8L947.7 295.9Z"/>
<path fill="#d3d3d3" d="M958.5 296.7L959.7 297.5L961.2 297.1L960.1 296.2Z"/>
<path fill="#e2e2e2" d="M948.9 296.8L950.1 297.6L951.6 296.8L950.4 295.8Z"/>
<path fill="#c5c5c5" d="M961.2 297.1L962.4 297.7L964.0 297.3L962.8 296.6Z"/>
<path fill="#ececec" d="M951.6 296.8L952.8 297.7L954.3 297.0L953.1 295.9Z"/>
<path fill="#c1c1c1" d="M942.0 297.4L943.1 298.0L944.7 297.5L943.5 296.9Z"/>
<path fill="#e5e5e5" d="M954.3 297.0L955.5 297.8L957.0 297.3L955.8 296.3Z"/>
<path fill="#cecece" d="M944.7 297.5L945.8 298.1L947.4 297.5L946.2 296.8Z"/>
<path fill="#dadada" d="M957.0 297.3L958.2 298.0L959.7 297.5L958.5 296.7Z"/>
<path fill="#dbdbdb" d="M947.4 297.5L948.5 298.1L950.1 297.6L948.9 296.8Z"/>
<path fill="#cdcdcd" d="M959.7 297.5L960.9 298.2L962.4 297.7L961.2 297.1Z"/>
<path fill="#e6e6e6" d="M950.1 297.6L951.3 298.2L952.8 297.7L951.6 296.8Z"/>
<path fill="#ebebeb" d="M952.8 297.7L954.0 298.4L955.5 297.8L954.3 297.0Z"/>
<path fill="#c7c7c7" d="M943.1 298.0L944.3 298.5L945.8 298.1L944.7 297.5Z"/>
<path fill="#e1e1e1" d="M955.5 297.8L956.7 298.5L958.2 298.0L957.0 297.3Z"/>
<path fill="#d4d4d4" d="M945.8 298.1L947.0 298.6L948.5 298.1L947.4 297.5Z"/>
<path fill="#d4d4d4" d="M958.2 298.0L959.4 298.6L960.9 298.2L959.7 297.5Z"/>
<path fill="#e0e0e0" d="M948.5 298.1L949.7 298.7L951.3 298.2L950.1 297.6Z"/>
<path fill="#ebebeb" d="M951.3 298.2L952.4 298.8L954.0 298.4L952.8 297.7Z"/>
<path fill="#e7e7e7" d="M954.0 298.4L955.1 299.0L956.7 298.5L955.5 297.8Z"/>
<path fill="#cdcdcd" d="M944.3 298.5L945.5 299.1L947.0 298.6L945.8 298.1Z"/>
<path fill="#dbdbdb" d="M956.7 298.5L957.8 299.1L959.4 298.6L958.2 298.0Z"/>
<path fill="#dadada" d="M947.0 298.6L948.2 299.2L949.7 298.7L948.5 298.1Z"/>
<path fill="#e5e5e5" d="M949.7 298.7L950.9 299.3L952.4 298.8L951.3 298.2Z"/>
<path fill="#ececec" d="M952.4 298.8L953.6 299.4L955.1 299.0L954.0 298.4Z"/>
<path fill="#e2e2e2" d="M955.1 299.0L956.3 299.5L957.8 299.1L956.7 298.5Z"/>
<path fill="#d2d2d2" d="M945.5 299.1L946.7 299.6L948.2 299.2L947.0 298.6Z"/>
<path fill="#dfdfdf" d="M948.2 299.2L949.4 299.8L950.9 299.3L949.7 298.7Z"/>
<path fill="#e9e9e9" d="M950.9 299.3L952.1 299.9L953.6 299.4L952.4 298.8Z"/>
<path fill="#e8e8e8" d="M953.6 299.4L954.8 300.0L956.3 299.5L955.1 299.0Z"/>
<path fill="#d8d8d8" d="M946.7 299.6L947.8 300.2L949.4 299.8L948.2 299.2Z"/>
<path fill="#e4e4e4" d="M949.4 299.8L950.6 300.3L952.1 299.9L950.9 299.3Z"/>
<path fill="#ededed" d="M952.1 299.9L953.3 300.4L954.8 300.0L953.6 299.4Z"/>
<path fill="#dddddd" d="M947.8 300.2L949.0 300.7L950.6 300.3L949.4 299.8Z"/>
<path fill="#e8e8e8" d="M950.6 300.3L951.7 300.9L953.3 300.4L952.1 299.9Z"/>
<path fill="#e2e2e2" d="M949.0 300.7L950.2 301.3L951.7 300.9L950.6 300.3Z"/>
</g>
<g opacity="0.999">
<g><text transform="translate(45.34 182.3) scale(1.2035 1)" font-size="42.8" style="stroke-width:0.5px">M</text><text transform="translate(88.25 182.3) scale(0.6280 1)" font-size="42.8" style="stroke-width:1.1px">E</text><text transform="translate(111.13 182.3) scale(0.7053 1)" font-size="42.8" style="stroke-width:1.0px">L</text><text transform="translate(130.35 182.3) scale(0.7000 1)" font-size="42.8" style="stroke-width:1.0px">L</text><text transform="translate(150.45 182.3) scale(0.6280 1)" font-size="42.8" style="stroke-width:1.1px">E</text></g>
<g><text transform="translate(583.43 34.1) scale(1.0570 1)" font-size="22.4">Personalized</text></g>
<g><text transform="translate(612.48 65.5) scale(1.0435 1)" font-size="22.4">Speech</text></g>
<g><text transform="translate(672.00 155.6) scale(1.0169 1)" font-size="22.4">Mel-Spectrogram</text> <text transform="translate(853.62 155.6) scale(1.0055 1)" font-size="22.4">Vocoder</text></g>
<g><text transform="translate(760.52 196.3) scale(1.0012 1)" font-size="22.4">Post-Net</text></g>
<g><text transform="translate(682.60 292.8) scale(1.0116 1)" font-size="22.4">Latent</text> <text transform="translate(752.30 292.8) scale(0.9769 1)" font-size="22.4">Sampling</text> <text transform="translate(848.22 292.8) scale(1.0580 1)" font-size="22.4">Module</text></g>
<g><text transform="translate(205.28 370.3) scale(1.0469 1)" font-size="24.8">Autoregressive</text> <text transform="translate(385.63 370.3) scale(1.0735 1)" font-size="24.8">Mel-Spectrogram</text> <text transform="translate(596.27 370.3) scale(1.0019 1)" font-size="24.8">Language</text> <text transform="translate(713.54 370.3) scale(1.1155 1)" font-size="24.8">Modeling</text></g>
<g><text transform="translate(81.76 490.5) scale(1.0298 1)" font-size="22.4">Text</text> <text transform="translate(131.77 490.5) scale(1.0047 1)" font-size="22.4">Tokenizer</text></g>
<g><text transform="translate(329.00 476.4) scale(1.0160 1)" font-size="22.4">Mel-Spectrogram</text></g>
<g><text transform="translate(365.74 505.6) scale(1.0228 1)" font-size="22.4">Extraction</text></g>
<g><text transform="translate(223.78 577.4) scale(0.9801 1)" font-size="22.4">Text</text></g>
<g><text transform="translate(206.98 607.1) scale(1.0242 1)" font-size="22.4">Prompt</text></g>
<g><text transform="translate(465.82 577.2) scale(0.9558 1)" font-size="22.4">Speech</text></g>
<g><text transform="translate(465.09 606.7) scale(1.0596 1)" font-size="22.4">prompt</text></g>
</g>
</svg>
</body>
</html>
